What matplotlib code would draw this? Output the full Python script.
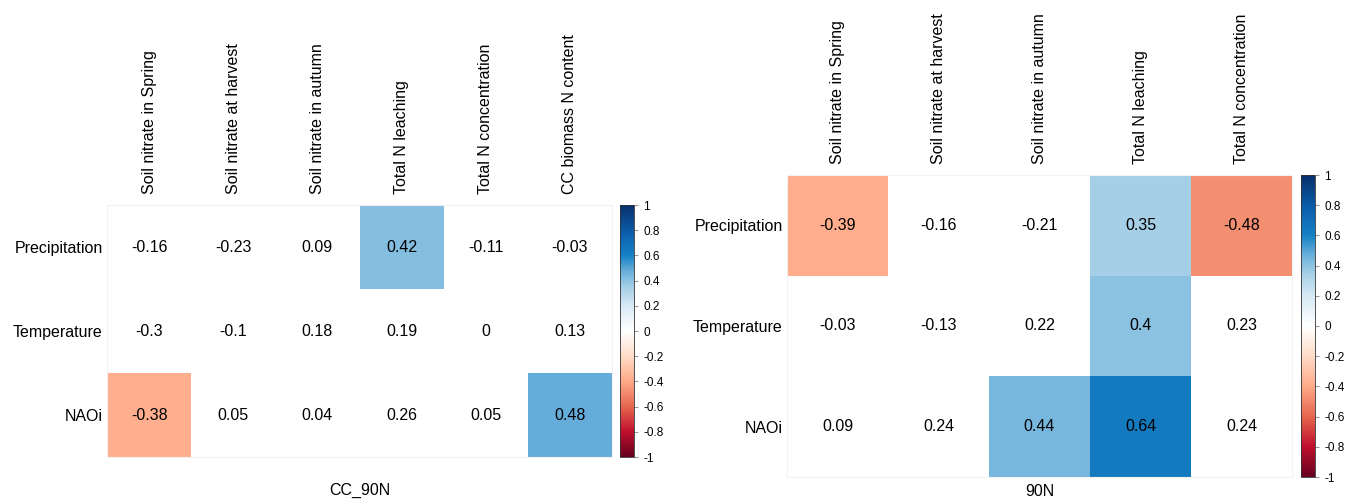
import numpy as np
import matplotlib
matplotlib.use("Agg")
import matplotlib.pyplot as plt
from matplotlib.colors import LinearSegmentedColormap, Normalize
from matplotlib.colorbar import ColorbarBase

plt.rcParams['font.family'] = ['Liberation Sans', 'DejaVu Sans']

# rows / columns
rows = ["Precipitation", "Temperature", "NAOi"]
cols_cc = ["Soil nitrate in Spring", "Soil nitrate at harvest", "Soil nitrate in autumn",
           "Total N leaching", "Total N concentration", "CC biomass N content"]
cols_90 = ["Soil nitrate in Spring", "Soil nitrate at harvest", "Soil nitrate in autumn",
           "Total N leaching", "Total N concentration"]

# correlation values
vals_cc = [[-0.16, -0.23, 0.09, 0.42, -0.11, -0.03],
           [-0.3, -0.1, 0.18, 0.19, 0, 0.13],
           [-0.38, 0.05, 0.04, 0.26, 0.05, 0.48]]
vals_90 = [[-0.39, -0.16, -0.21, 0.35, -0.48],
           [-0.03, -0.13, 0.22, 0.4, 0.23],
           [0.09, 0.24, 0.44, 0.64, 0.24]]

# significant cells (coloured), 1 = shown
sig_cc = [[0, 0, 0, 1, 0, 0],
          [0, 0, 0, 0, 0, 0],
          [1, 0, 0, 0, 0, 1]]
sig_90 = [[1, 0, 0, 1, 1],
          [0, 0, 0, 1, 0],
          [0, 0, 1, 1, 0]]

# diverging palette, tuned to the picture
cmap = LinearSegmentedColormap.from_list("corrRdBu", [
    (0.0, "#67001F"), (0.1, "#C0102E"), (0.2, "#E5664F"), (0.3, "#FFAA88"),
    (0.4, "#FEDCC8"), (0.5, "#FFFFFF"), (0.6, "#D6E9F4"), (0.675, "#A5CFE6"),
    (0.74, "#66ADD9"), (0.8, "#1582C6"), (0.9, "#0B5BA7"), (1.0, "#08306B")], N=256)
norm = Normalize(-1, 1)

fig = plt.figure(figsize=(13.55, 5), dpi=100)


def panel(ax_rect, cb_rect, cols, vals, sig, title, title_y):
    ax = fig.add_axes(ax_rect)
    v = np.array(vals, dtype=float)
    m = np.ma.masked_where(np.array(sig) == 0, v)
    nr, nc = v.shape
    ax.set_facecolor("white")
    ax.pcolormesh(np.arange(nc + 1), np.arange(nr + 1), m, cmap=cmap, norm=norm,
                  edgecolors="none")
    ax.set_xlim(0, nc)
    ax.set_ylim(nr, 0)
    for i in range(nr):
        for j in range(nc):
            ax.text(j + 0.5, i + 0.5, "{:g}".format(v[i, j]), ha="center", va="center",
                    fontsize=11.5, color="black")
    ax.xaxis.tick_top()
    ax.set_xticks(np.arange(nc) + 0.5)
    ax.set_xticklabels(cols, rotation=90, fontsize=11.5, va="bottom", ha="center")
    ax.set_yticks(np.arange(nr) + 0.5)
    ax.set_yticklabels(rows, fontsize=11.5)
    ax.tick_params(axis="x", length=0, pad=8)
    ax.tick_params(axis="y", length=0, pad=3)
    for s in ax.spines.values():
        s.set_color("#f2f2f2")
        s.set_linewidth(0.8)
    x0, _, w, _ = ax_rect
    fig.text(x0 + w / 2, title_y, title, ha="center", va="center", fontsize=11.5)

    cax = fig.add_axes(cb_rect)
    cb = ColorbarBase(cax, cmap=cmap, norm=norm, ticks=np.linspace(-1, 1, 11))
    cb.ax.set_yticklabels(["{:g}".format(round(t, 1)) for t in np.linspace(-1, 1, 11)])
    cb.ax.tick_params(labelsize=8.5, length=3, color="#999999")
    cb.outline.set_edgecolor("#333333")
    cb.outline.set_linewidth(0.6)


panel([107 / 1355, 43 / 500, 505 / 1355, 252 / 500],
      [620 / 1355, 43 / 500, 14 / 1355, 252 / 500],
      cols_cc, vals_cc, sig_cc, "CC_90N", 1 - 490 / 500)
panel([787 / 1355, 23 / 500, 505 / 1355, 302 / 500],
      [1301 / 1355, 23 / 500, 14 / 1355, 302 / 500],
      cols_90, vals_90, sig_90, "90N", 1 - 491 / 500)

fig.savefig("out.png", dpi=100, facecolor="white")
